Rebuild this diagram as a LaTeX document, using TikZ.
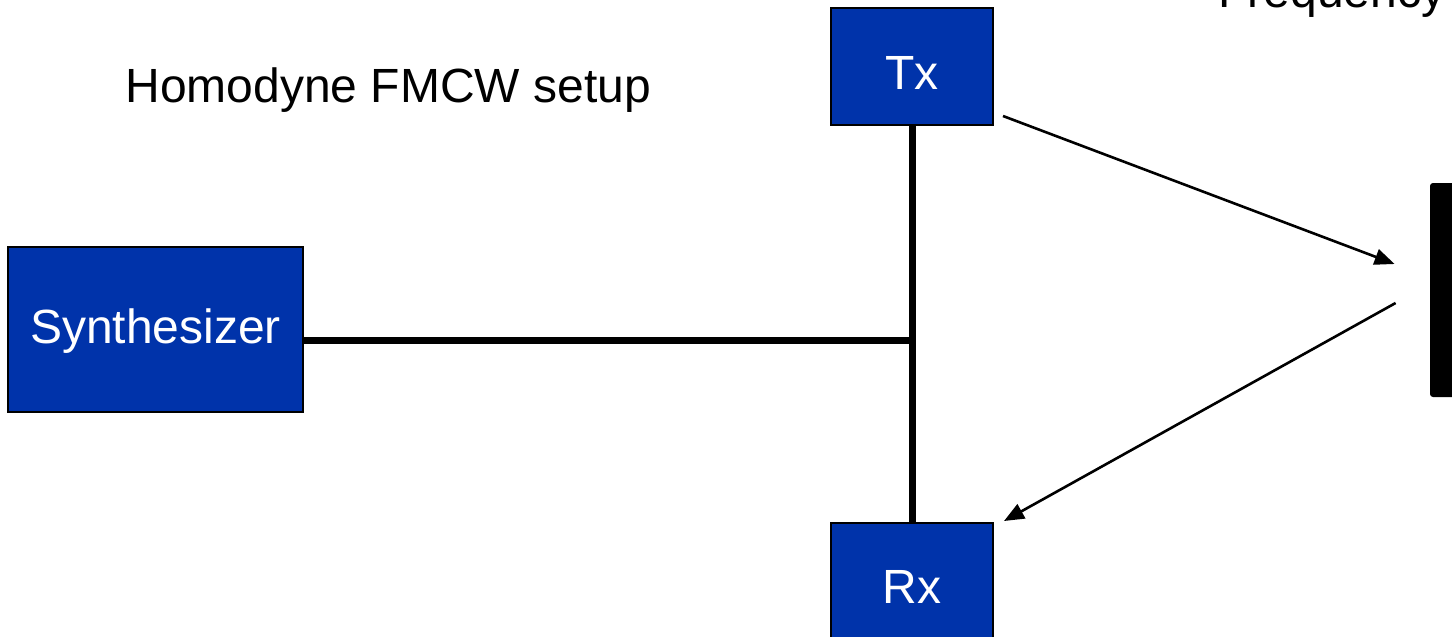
\documentclass[tikz,border=0pt]{standalone}
\usepackage{fontspec}
\setmainfont{Liberation Sans}
\usetikzlibrary{arrows.meta}
\definecolor{boxblue}{HTML}{0033AA}
\tikzset{
  block/.style={draw=black, line width=1pt, fill=boxblue, text=white,
    inner sep=0pt, font=\fontsize{24}{29}\selectfont},
  feed/.style={line width=3.5pt},
  ray/.style={line width=1.3pt, -{Triangle[length=10pt,width=8pt]}},
  label/.style={inner sep=0pt, anchor=base west, font=\fontsize{24}{29}\selectfont}
}
\begin{document}
\begin{tikzpicture}[x=0.5pt, y=-0.5pt]
  \useasboundingbox (0,0) rectangle (1452,637);
  \clip (0,0) rectangle (1452,637);

  % transmitter, receiver and synthesizer blocks
  \node[block, minimum width=81pt, minimum height=58.5pt,
        text height=23pt, text depth=0pt] (tx) at (912,66.5) {Tx};
  \node[block, minimum width=81pt, minimum height=58.5pt,
        text height=22pt, text depth=0pt] (rx) at (912,581.5) {Rx};
  \node[block, minimum width=147.5pt, minimum height=82.5pt,
        text height=13.5pt, text depth=0pt] (synth) at (155.5,329.5) {Synthesizer};

  % reflecting target
  \node[fill=black, rounded corners=1.5pt, inner sep=0pt,
        minimum width=16pt, minimum height=107pt] (target) at (1446,290) {};

  % captions
  \node[label] (title) at (125,102) {Homodyne FMCW setup};
  \node[label] (freq) at (1218,7) {Frequency};

  % signal feed from the synthesizer to Tx and Rx
  \coordinate (junction) at (912,340);
  \draw[feed] (junction -| synth.east) -- (junction);
  \draw[feed] (tx.south) -- (rx.north);

  % transmitted and reflected waves
  \draw[ray] ([shift={(9,-10)}]tx.south east) -- ([shift={(-35,-26)}]target.west);
  \draw[ray] ([shift={(-34,13)}]target.west) -- ([shift={(10,-1)}]rx.north east);
\end{tikzpicture}
\end{document}
